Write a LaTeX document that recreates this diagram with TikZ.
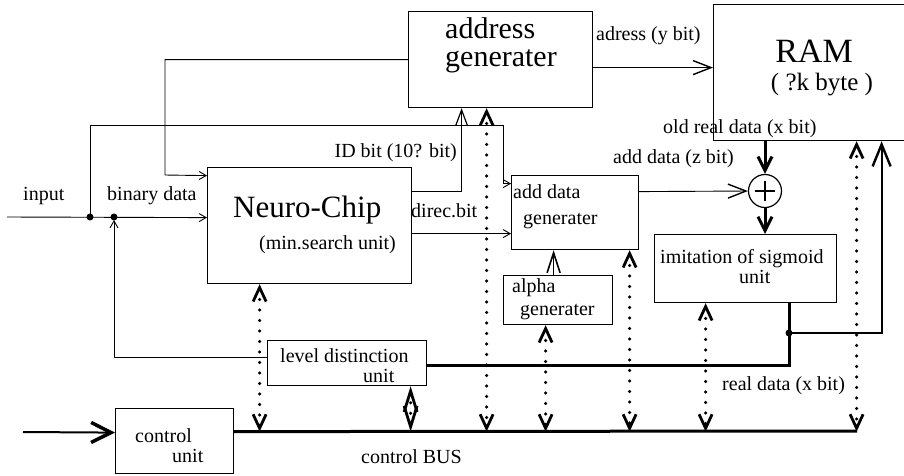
\documentclass[tikz,border=0pt]{standalone}
\usepackage{fontspec}
\setmainfont{Liberation Serif}
\usetikzlibrary{arrows.meta}

\begin{document}
\begin{tikzpicture}[
  x=1pt, y=-1pt,
  box/.style={draw,line width=1.2pt,inner sep=0pt,anchor=north west},
  txt/.style={inner sep=0pt,anchor=base west,font=\fontsize{20}{22}\selectfont},
  big/.style={inner sep=0pt,anchor=base west,font=\fontsize{30}{30}\selectfont},
  wire/.style={line width=0.9pt},
  arrow/.style={wire,-{Straight Barb[length=7pt,width=8pt,line width=0.9pt]}},
  bigarrow/.style={wire,-{Straight Barb[length=18pt,width=14pt,line width=1.4pt]}},
  idarrow/.style={wire,-{Straight Barb[length=16pt,width=12pt,line width=1.2pt]}},
  alphaarrow/.style={line width=1.2pt,-{Straight Barb[length=20pt,width=13pt,line width=1.6pt]}},
  thickarrow/.style={line width=3pt,-{Straight Barb[length=14pt,width=14pt,line width=3pt]}},
  feedarrow/.style={line width=2.2pt,-{Straight Barb[length=22pt,width=18pt,line width=2.4pt]}},
  inarrow/.style={line width=2pt,-{Straight Barb[length=20pt,width=20pt,line width=3.5pt]}},
  bus/.style={line width=3pt},
  thickline/.style={line width=2.4pt},
  ctrlline/.style={line width=3.5pt,line cap=round,dash pattern=on 0pt off 10.5pt,
    >={Straight Barb[length=14pt,width=13pt,line width=2.8pt]},<->}
]
\useasboundingbox (0,0) rectangle (904,475);

\node[box,minimum width=184pt,minimum height=96pt] (addr) at (408,11) {};
\node[box,minimum width=200pt,minimum height=136pt] (ram) at (713,4) {};
\node[box,minimum width=204pt,minimum height=116pt] (neuro) at (207,167) {};
\node[box,minimum width=127pt,minimum height=74pt] (addgen) at (511,175) {};
\node[box,minimum width=109pt,minimum height=49pt] (alpha) at (503,275) {};
\node[box,minimum width=182pt,minimum height=68pt] (sigm) at (654,234) {};
\node[box,minimum width=159pt,minimum height=45pt] (level) at (267,340) {};
\node[box,minimum width=118pt,minimum height=65pt] (ctrl) at (115,408) {};
\node[draw,circle,line width=1.2pt,minimum size=33pt,inner sep=0pt] (plus) at (765,191) {};
\draw[line width=1.2pt] (plus.center) +(-10,0) -- +(10,0) +(0,-10) -- +(0,10);

\node[big,text depth=0pt] (addr-a) at (445,38) {address};
\node[big,text height=0.55em] (addr-b) at (445,66) {generater};
\node[big,anchor=base,font=\fontsize{34}{34}\selectfont] (ram-a) at (814,62) {RAM};
\node[txt,anchor=base,font=\fontsize{25}{25}\selectfont] (ram-b) at (822,90) {( ?k byte )};
\node[big,font=\fontsize{31}{31}\selectfont] (neuro-a) at (233,217) {Neuro-Chip};
\node[txt] (neuro-b) at (259,249) {(min.search unit)};
\node[txt] (addgen-a) at (513,198) {add data};
\node[txt] (addgen-b) at (523,224) {generater};
\node[txt] (alpha-a) at (512,292) {alpha};
\node[txt] (alpha-b) at (520,315) {generater};
\node[txt] (sigm-a) at (660,263) {imitation of sigmoid};
\node[txt] (sigm-b) at (739,283) {unit};
\node[txt,text depth=0pt] (level-a) at (280,362) {level distinction};
\node[txt] (level-b) at (363,382) {unit};
\node[txt] (ctrl-a) at (135,442) {control};
\node[txt] (ctrl-b) at (172,462) {unit};

\node[txt] (l-input) at (23,200) {input};
\node[txt] (l-binary) at (107,200) {binary data};
\node[txt,anchor=base east] (l-id) at (457,157) {ID bit (10? bit)};
\node[txt] (l-direc) at (411,217) {direc.bit};
\node[txt] (l-adress) at (596,40) {adress (y bit)};
\node[txt] (l-adddata) at (613,163) {add data (z bit)};
\node[txt] (l-oldreal) at (663,133) {old real data (x bit)};
\node[txt] (l-real) at (722,390) {real data (x bit)};
\node[txt] (l-bus) at (361,463) {control BUS};

\coordinate (inp) at (7,217);
\coordinate (j1) at (90,217);
\coordinate (j2) at (114,217);
\coordinate (j3) at (789,333);
\coordinate (cin) at (23,432);
\coordinate (busR) at (857,431);

\draw[arrow] (inp) -- ([yshift=8pt]neuro.west);
\draw[arrow] (j1) |- (503,125) |- ([yshift=29pt]addgen.west);
\draw[arrow] (addr.west) -| (165,175) -- ([yshift=50pt]neuro.west);
\draw[idarrow] ([yshift=34pt]neuro.east) -| ([xshift=-39pt]addr.south);
\draw[arrow] ([yshift=-8pt]neuro.east) -- ([yshift=-21pt]addgen.west);
\draw[bigarrow] ([yshift=-8pt]addr.east) -- ([yshift=5pt]ram.west);
\draw[bigarrow] ([yshift=21pt]addgen.east) -- (plus.west);
\draw[thickarrow] (plus |- ram.south) -- (plus.north);
\draw[thickarrow] (plus.south) -- (plus |- sigm.north);
\draw[alphaarrow] ([xshift=-4.5pt]alpha.north) coordinate (t) -- (t |- addgen.south);
\draw[thickline] ([xshift=44pt]sigm.south) |- ([yshift=-2.5pt]level.east);
\draw[feedarrow] (j3) -| ([xshift=68pt]ram.south);
\draw[arrow,shorten >=3pt] ([yshift=5.5pt]level.west) -| (j2);
\draw[inarrow] (cin) -- ([yshift=8.5pt]ctrl.west);
\draw[bus] ([yshift=9.5pt]ctrl.east) coordinate (busL) -- (busR);

\foreach \n/\dx in {neuro/-50,addr/-14,alpha/-12.5,addgen/54.5,sigm/-40,ram/43}
  \draw[ctrlline] ([xshift=\dx pt]\n.south) coordinate (t) -- (t |- busL);
\draw[ctrlline,>={Straight Barb[length=21pt,width=13pt,line width=2.8pt]}]
  ([xshift=63.5pt]level.south) coordinate (t) -- (t |- busL);

\foreach \j in {j1,j2,j3} \fill (\j) circle (3.5pt);
\end{tikzpicture}
\end{document}
